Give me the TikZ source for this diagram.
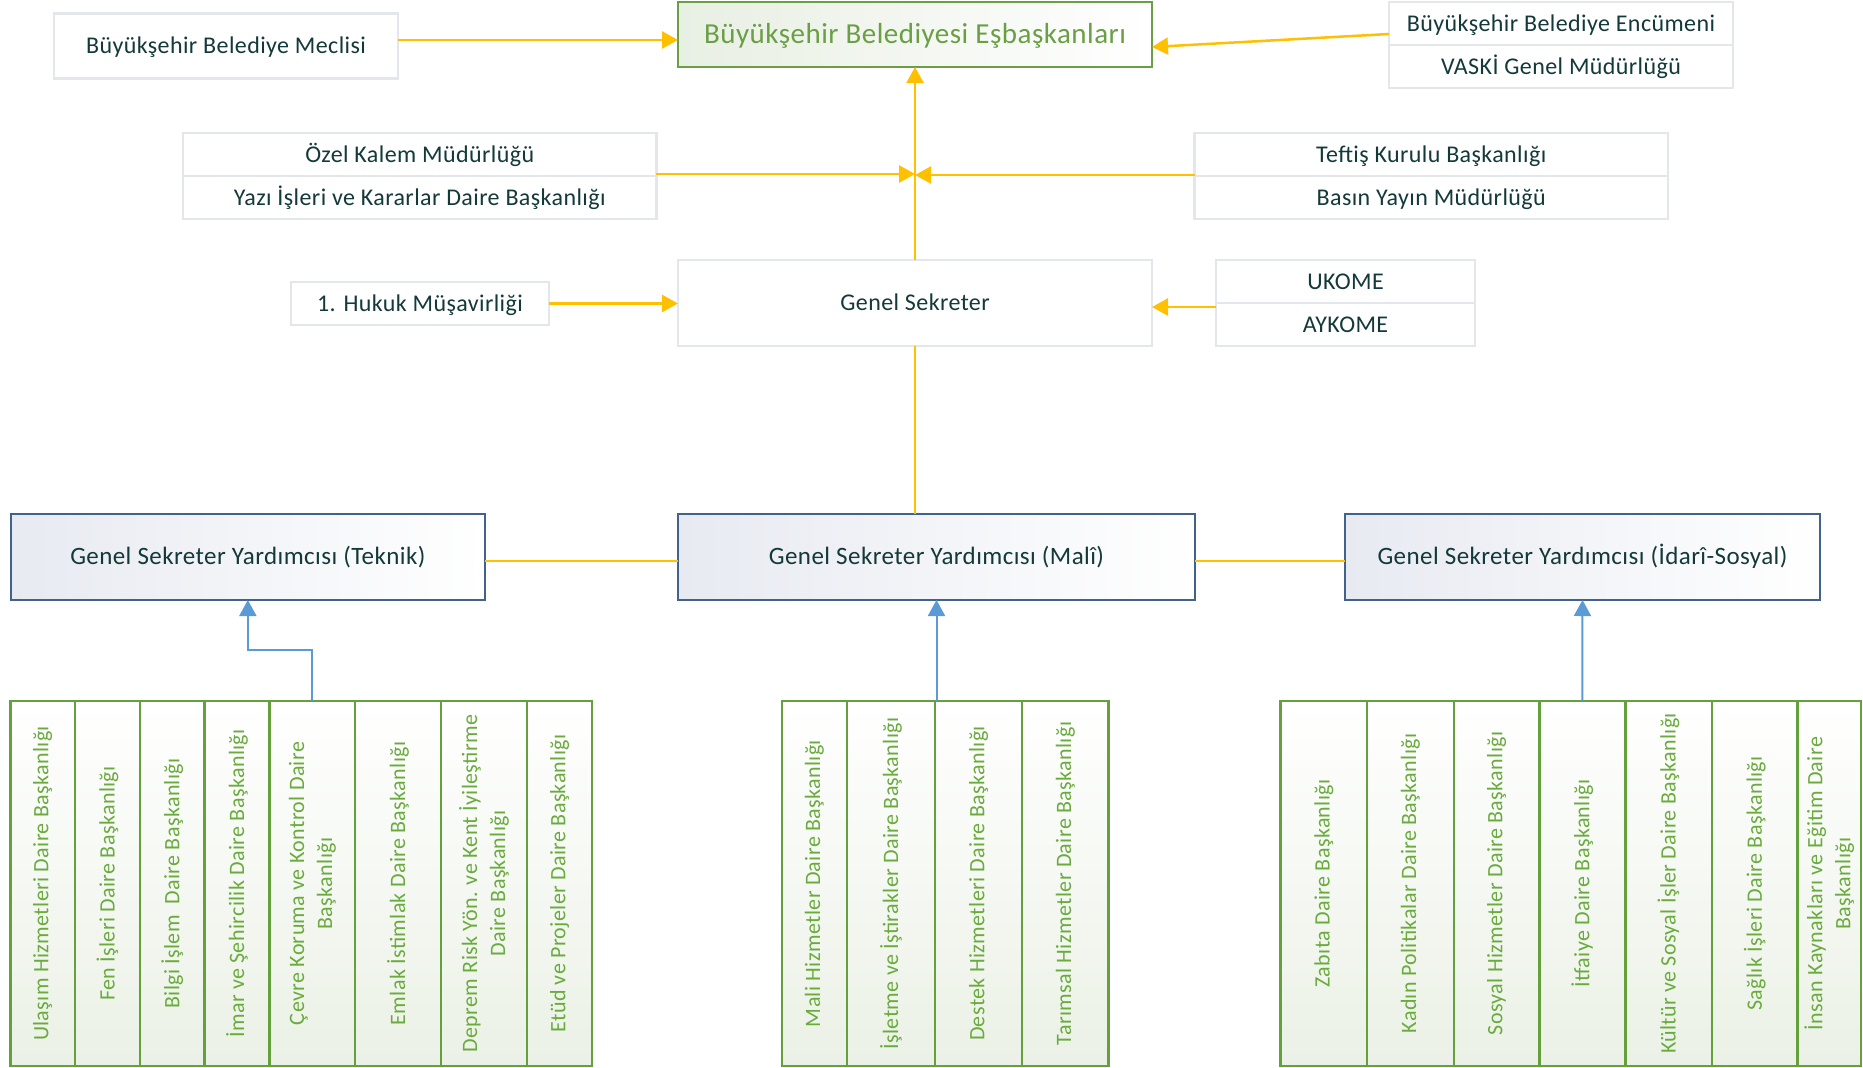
\documentclass[tikz,border=0pt]{standalone}
\usepackage{fontspec}
\setmainfont{Carlito}[LetterSpace=1.7]
\usetikzlibrary{arrows.meta,calc}
\definecolor{ylw}{HTML}{FFC000}
\definecolor{blu}{HTML}{5B9BD5}
\definecolor{txtdark}{HTML}{14393A}
\definecolor{grn}{HTML}{6AAB3E}
\definecolor{grnline}{HTML}{64A03C}
\definecolor{graybd}{HTML}{E3E6EA}
\definecolor{bluebd}{HTML}{41628A}
\definecolor{bluefill}{HTML}{E7EAF1}
\definecolor{grnfill}{HTML}{EBF1E6}
\definecolor{topfill}{HTML}{E8EFE3}
\definecolor{topbd}{HTML}{6A9F45}
\begin{document}
\begin{tikzpicture}[x=1pt,y=-1pt,
  graybox/.style={draw=graybd,line width=2.2pt,fill=white,inner sep=0pt,outer sep=0pt,
    text=txtdark,font=\fontsize{24}{28}\selectfont,text height=15.5pt,text depth=0pt},
  topbox/.style={draw=topbd,line width=2pt,left color=topfill,right color=white,inner sep=0pt,outer sep=0pt,
    text=topbd,font=\fontsize{29}{33}\selectfont,text height=18.7pt,text depth=0pt},
  bluebox/.style={draw=bluebd,line width=2.2pt,left color=bluefill,right color=white,inner sep=0pt,outer sep=0pt,
    text=txtdark,font=\fontsize{25}{29}\selectfont,minimum height=86pt,text height=16.1pt,text depth=1.5pt},
  colbox/.style={draw=grnline,line width=2.4pt,top color=white,bottom color=grnfill,inner sep=0pt,outer sep=0pt,
    minimum height=365pt},
  coltext/.style={rotate=90,text=grn,align=center,font=\fontsize{22}{28}\selectfont,inner sep=0pt},
  yarrow/.style={draw=ylw,line width=2.5pt,-{Triangle[width=17pt,length=16pt]}},
  yline/.style={draw=ylw,line width=2.5pt},
  barrow/.style={draw=blu,line width=2pt,-{Triangle[width=17pt,length=16pt]}}
]
\useasboundingbox[fill=white] (0,0) rectangle (1863,1068);

% top level
\node[graybox,minimum width=344pt,minimum height=65pt] (meclis) at (226,46) {Büyükşehir Belediye Meclisi};
\node[topbox,minimum width=474pt,minimum height=65pt] (top) at (915,34.5) {Büyükşehir Belediyesi Eşbaşkanları};
\node[graybox,minimum width=344pt,minimum height=43pt] (enc1) at (1561,23.5) {Büyükşehir Belediye Encümeni};
\node[graybox,minimum width=344pt,minimum height=43pt] (enc2) at (1561,66.5) {VASKİ Genel Müdürlüğü};

\node[graybox,minimum width=473.5pt,minimum height=43pt] (ozel1) at (419.7,154.5) {Özel Kalem Müdürlüğü};
\node[graybox,minimum width=473.5pt,minimum height=43pt] (ozel2) at (419.7,197.5) {Yazı İşleri ve Kararlar Daire Başkanlığı};
\node[graybox,minimum width=473.5pt,minimum height=43pt] (teftis1) at (1431.25,154.5) {Teftiş Kurulu Başkanlığı};
\node[graybox,minimum width=473.5pt,minimum height=43pt] (teftis2) at (1431.25,197.5) {Basın Yayın Müdürlüğü};

\node[graybox,minimum width=258pt,minimum height=43pt] (hukuk) at (420,303.5) {1. Hukuk Müşavirliği};
\node[graybox,minimum width=474pt,minimum height=86pt] (gs) at (915,303) {Genel Sekreter};
\node[graybox,minimum width=259pt,minimum height=43pt] (ukome1) at (1345.5,281.5) {UKOME};
\node[graybox,minimum width=259pt,minimum height=43pt] (ukome2) at (1345.5,324.5) {AYKOME};

% deputies
\node[bluebox,minimum width=474.3pt] (teknik) at (247.85,557) {Genel Sekreter Yardımcısı (Teknik)};
\node[bluebox,minimum width=517pt] (mali) at (936.5,557) {Genel Sekreter Yardımcısı (Malî)};
\node[bluebox,minimum width=475pt] (idari) at (1582.5,557) {Genel Sekreter Yardımcısı (İdarî-Sosyal)};

% Teknik columns
\node[colbox,minimum width=64.5pt] (t1) at (42.75,883.5) {};
\node[coltext] (t1t) at (t1) {Ulaşım Hizmetleri Daire Başkanlığı};
\node[colbox,minimum width=65pt] (t2) at (107.5,883.5) {};
\node[coltext] (t2t) at (t2) {Fen İşleri Daire Başkanlığı};
\node[colbox,minimum width=64.5pt] (t3) at (172.25,883.5) {};
\node[coltext] (t3t) at (t3) {Bilgi İşlem\ \ Daire Başkanlığı};
\node[colbox,minimum width=65pt] (t4) at (237,883.5) {};
\node[coltext] (t4t) at (t4) {İmar ve Şehircilik Daire Başkanlığı};
\node[colbox,minimum width=85.5pt] (t5) at (312.25,883.5) {};
\node[coltext] (t5t) at (t5) {Çevre Koruma ve Kontrol Daire\\Başkanlığı};
\node[colbox,minimum width=86pt] (t6) at (398,883.5) {};
\node[coltext] (t6t) at (t6) {Emlak İstimlak Daire Başkanlığı};
\node[colbox,minimum width=86pt] (t7) at (484,883.5) {};
\node[coltext] (t7t) at (t7) {Deprem Risk Yön. ve Kent İyileştirme\\Daire Başkanlığı};
\node[colbox,minimum width=65pt] (t8) at (559.5,883.5) {};
\node[coltext] (t8t) at (t8) {Etüd ve Projeler Daire Başkanlığı};

% Mali columns
\node[colbox,minimum width=65.2pt] (m1) at (814.4,883.5) {};
\node[coltext] (m1t) at (m1) {Mali Hizmetler Daire Başkanlığı};
\node[colbox,minimum width=88pt] (m2) at (891,883.5) {};
\node[coltext] (m2t) at (m2) {İşletme ve İştirakler Daire Başkanlığı};
\node[colbox,minimum width=87pt] (m3) at (978.5,883.5) {};
\node[coltext] (m3t) at (m3) {Destek Hizmetleri Daire Başkanlığı};
\node[colbox,minimum width=86.6pt] (m4) at (1065.3,883.5) {};
\node[coltext] (m4t) at (m4) {Tarımsal Hizmetler Daire Başkanlığı};

% Idari columns
\node[colbox,minimum width=86.5pt] (i1) at (1323.75,883.5) {};
\node[coltext] (i1t) at (i1) {Zabıta Daire Başkanlığı};
\node[colbox,minimum width=86.7pt] (i2) at (1410.35,883.5) {};
\node[coltext] (i2t) at (i2) {Kadın Politikalar Daire Başkanlığı};
\node[colbox,minimum width=85.6pt] (i3) at (1496.5,883.5) {};
\node[coltext] (i3t) at (i3) {Sosyal Hizmetler Daire Başkanlığı};
\node[colbox,minimum width=86pt] (i4) at (1582.3,883.5) {};
\node[coltext] (i4t) at (i4) {İtfaiye Daire Başkanlığı};
\node[colbox,minimum width=86.4pt] (i5) at (1668.5,883.5) {};
\node[coltext] (i5t) at (i5) {Kültür ve Sosyal İşler Daire Başkanlığı};
\node[colbox,minimum width=85.9pt] (i6) at (1754.65,883.5) {};
\node[coltext] (i6t) at (i6) {Sağlık İşleri Daire Başkanlığı};
\node[colbox,minimum width=63.4pt] (i7) at (1829.3,883.5) {};
\node[coltext] (i7t) at (i7) {İnsan Kaynakları ve Eğitim Daire\\Başkanlığı};

% yellow connectors
\draw[yarrow] ([yshift=6pt]meclis.east) -- ([yshift=6pt]meclis.east -| top.west);
\draw[yarrow] ([yshift=-10.5pt]enc1.west) -- ([yshift=-12.5pt]top.east);
\draw[yarrow] (gs.north) -- (top.south);
\draw[yarrow] ([yshift=2pt]ozel2.north east) -- ([yshift=2pt]ozel2.north east -| top.south);
\draw[yarrow] ([yshift=1pt]teftis2.north west) -- ([yshift=1pt]teftis2.north west -| top.south);
\draw[yarrow] (hukuk.east) -- (hukuk.east -| gs.west);
\draw[yarrow] ([yshift=-4pt]ukome2.north west) -- ([yshift=-4pt]ukome2.north west -| gs.east);
\draw[yline] (gs.south) -- (gs.south |- mali.north);
\draw[yline] ([yshift=-4pt]teknik.east) -- ([yshift=-4pt]teknik.east -| mali.west);
\draw[yline] ([yshift=-4pt]mali.east) -- ([yshift=-4pt]mali.east -| idari.west);

% blue connectors
\draw[barrow] (t5.north) -- ++(0,-51) -| (teknik.south);
\draw[barrow] (mali.south |- m3.north) -- (mali.south);
\draw[barrow] (i4.north) -- (idari.south);
\end{tikzpicture}
\end{document}
